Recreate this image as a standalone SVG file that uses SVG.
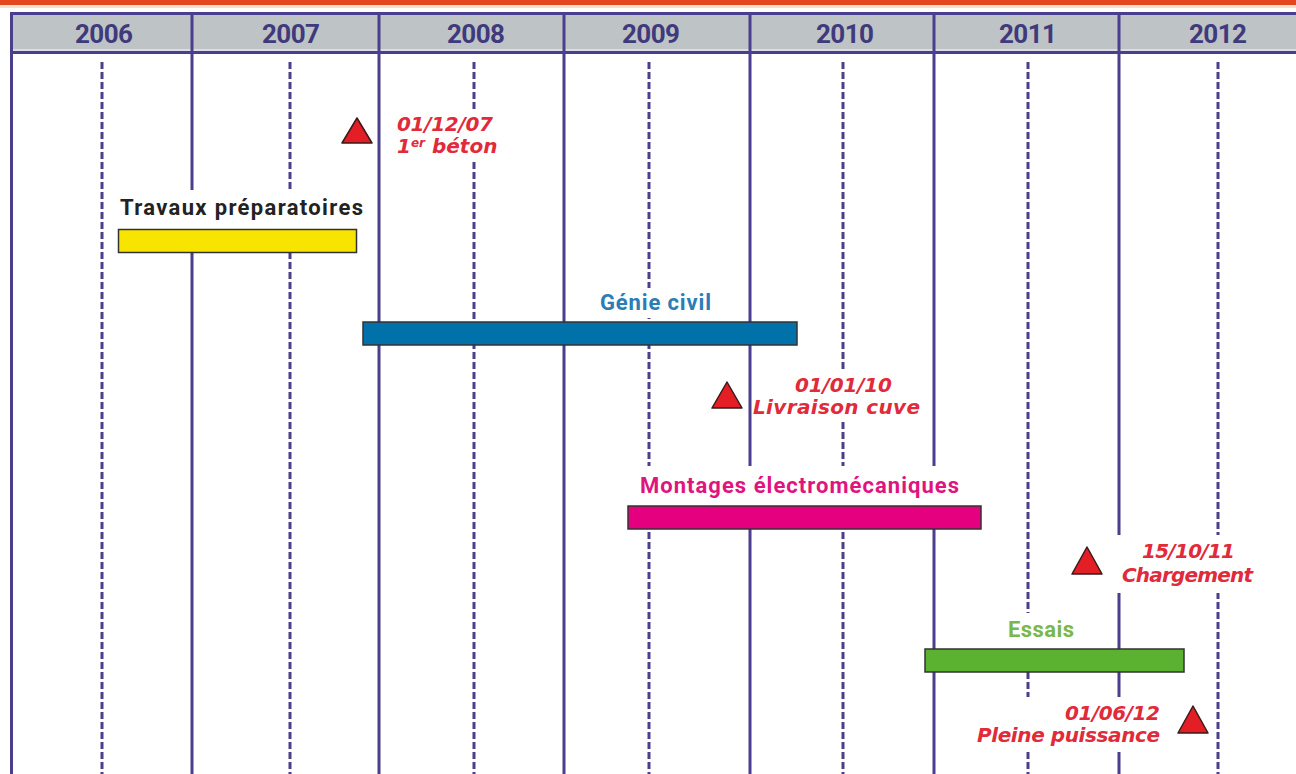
<svg xmlns="http://www.w3.org/2000/svg" width="1296" height="774" viewBox="0 0 1296 774">
<style>
.solid{stroke:#4a3f8e;stroke-width:3;fill:none}
.dash{stroke:#4a3f8e;stroke-width:3;fill:none;stroke-dasharray:7 3}
.year{font-family:Roboto,"Liberation Sans",sans-serif;font-weight:bold;font-size:26px;fill:#3e3a7c;text-anchor:middle}
.lbl{font-family:Roboto,"Liberation Sans",sans-serif;font-weight:bold;font-size:22px}
.ms{font-family:"DejaVu Sans","Liberation Sans",sans-serif;font-weight:bold;font-style:italic;font-size:20px;fill:#e12a3a}
.bar{stroke:#333;stroke-width:1.5}
.tri{fill:#e31e24;stroke:#3a1a1a;stroke-width:1.5;stroke-linejoin:round}
.mask{fill:#fff}
</style>
<rect width="1296" height="774" fill="#fff"/>
<rect x="0" y="0" width="1296" height="5" fill="#e4461f"/>
<rect x="0" y="5" width="1296" height="3" fill="#f4e2cf"/>
<g id="header">
<rect x="10" y="14" width="1286" height="37" fill="#bec3c5"/>
<line x1="10" y1="13.5" x2="1296" y2="13.5" class="solid"/>
<line x1="10" y1="50" x2="1296" y2="50" stroke="#e6e4f0" stroke-width="1.5"/>
<line x1="10" y1="52.5" x2="1296" y2="52.5" class="solid"/>
<text class="year" x="104" y="43" textLength="58">2006</text>
<text class="year" x="291" y="43" textLength="58">2007</text>
<text class="year" x="476" y="43" textLength="58">2008</text>
<text class="year" x="651" y="43" textLength="58">2009</text>
<text class="year" x="845" y="43" textLength="58">2010</text>
<text class="year" x="1028" y="43" textLength="58">2011</text>
<text class="year" x="1218" y="43" textLength="58">2012</text>
</g>
<g id="grid">
<line class="solid" x1="11.5" y1="12" x2="11.5" y2="774"/>
<line class="solid" x1="192" y1="12" x2="192" y2="774"/>
<line class="solid" x1="379" y1="12" x2="379" y2="774"/>
<line class="solid" x1="564" y1="12" x2="564" y2="774"/>
<line class="solid" x1="750" y1="12" x2="750" y2="774"/>
<line class="solid" x1="934" y1="12" x2="934" y2="774"/>
<line class="solid" x1="1119" y1="12" x2="1119" y2="774"/>
<line class="dash" x1="102" y1="62" x2="102" y2="774"/>
<line class="dash" x1="290" y1="62" x2="290" y2="774"/>
<line class="dash" x1="474" y1="62" x2="474" y2="774"/>
<line class="dash" x1="649" y1="62" x2="649" y2="774"/>
<line class="dash" x1="843" y1="62" x2="843" y2="774"/>
<line class="dash" x1="1028" y1="62" x2="1028" y2="774"/>
<line class="dash" x1="1218" y1="62" x2="1218" y2="774"/>
</g>
<g id="travaux">
<rect class="mask" x="114" y="190" width="254" height="40"/>
<text class="lbl" x="120" y="215" fill="#222" textLength="243">Travaux préparatoires</text>
<rect class="bar" x="118.5" y="229.5" width="238" height="23" fill="#f7e400"/>
</g>
<g id="genie">
<rect class="mask" x="596" y="288" width="120" height="30"/>
<text class="lbl" x="600" y="310" fill="#2a7db5" textLength="111">Génie civil</text>
<rect class="bar" x="363" y="322" width="434" height="23" fill="#0071a9"/>
</g>
<g id="montages">
<rect class="mask" x="636" y="466" width="328" height="40"/>
<text class="lbl" x="640" y="493" fill="#e0147f" textLength="319">Montages électromécaniques</text>
<rect class="bar" x="628" y="506" width="353" height="23" fill="#e4007e"/>
</g>
<g id="essais">
<rect class="mask" x="1004" y="613" width="74" height="36"/>
<text class="lbl" x="1008" y="637" fill="#79b84a" textLength="66">Essais</text>
<rect class="bar" x="925" y="649" width="259" height="23" fill="#5bb230"/>
</g>
<g id="m1">
<polygon class="tri" points="357,118 342,143 372,143"/>
<rect class="mask" x="390" y="110" width="112" height="50"/>
<text class="ms" x="397" y="131" textLength="96">01/12/07</text>
<text class="ms" x="397" y="153">1<tspan font-size="12" dy="-6">er</tspan><tspan dy="6"> béton</tspan></text>
</g>
<g id="m2">
<polygon class="tri" points="727,382 712,408 742,408"/>
<rect class="mask" x="752" y="370" width="176" height="50"/>
<text class="ms" x="795" y="392" textLength="97">01/01/10</text>
<text class="ms" x="753" y="414" textLength="167">Livraison cuve</text>
</g>
<g id="m3">
<polygon class="tri" points="1087,547 1072,574 1102,574"/>
<rect class="mask" x="1117" y="535" width="142" height="58"/>
<text class="ms" x="1142" y="558" textLength="93">15/10/11</text>
<text class="ms" x="1122" y="582" textLength="131">Chargement</text>
</g>
<g id="m4">
<polygon class="tri" points="1193,706 1178,733 1208,733"/>
<rect class="mask" x="973" y="697" width="192" height="55"/>
<text class="ms" x="1065" y="720" textLength="95">01/06/12</text>
<text class="ms" x="977" y="742" textLength="183">Pleine puissance</text>
</g>
</svg>
